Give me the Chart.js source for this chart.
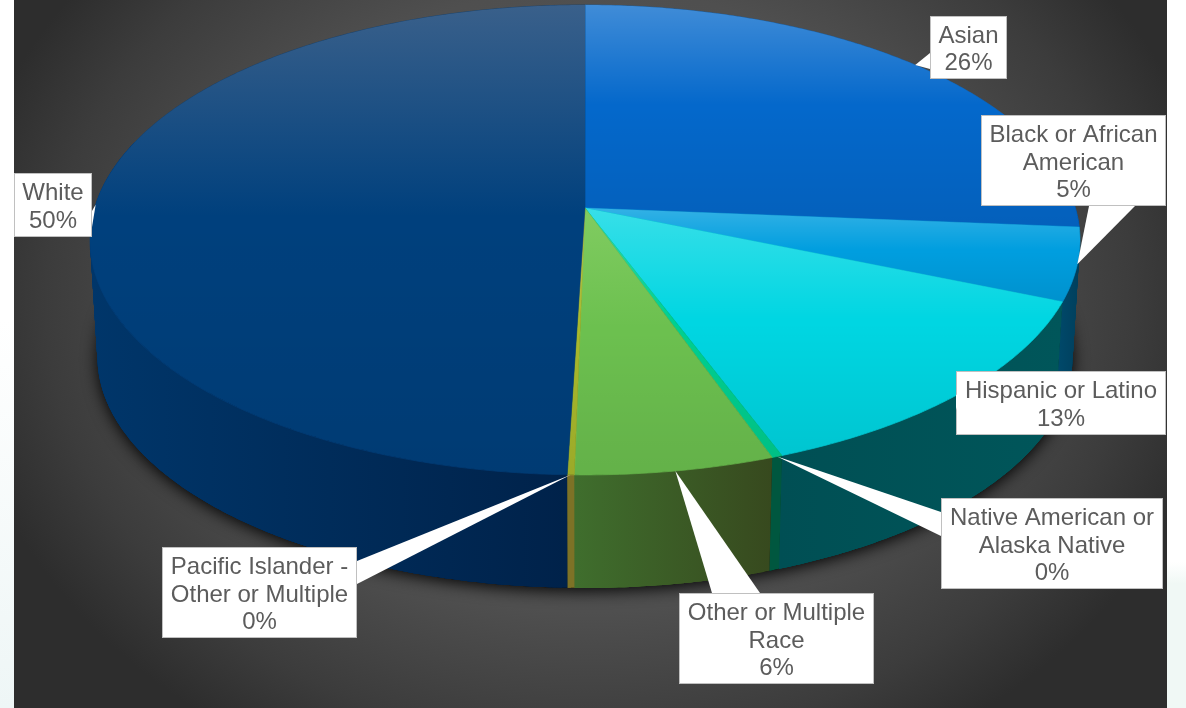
<!DOCTYPE html>
<html>
<head>
<meta charset="utf-8">
<title>Enrollment by race</title>
<script src="https://cdn.jsdelivr.net/npm/chart.js@4"></script>
<style>
  html, body { margin: 0; padding: 0; width: 1186px; height: 708px; overflow: hidden; }
  #page {
    position: absolute; left: 0; top: 0; width: 1186px; height: 708px;
    background: linear-gradient(to bottom, #ffffff 0%, #ffffff 45%, #eef6f6 100%);
  }
  #topright {
    position: absolute; left: 1167px; top: 0; width: 19px; height: 708px;
    background: linear-gradient(to bottom, #ffffff 0, #ffffff 562px, #f0f8f5 584px, #f0f8f5 708px);
  }
  #panel {
    position: absolute; left: 14px; top: 0; width: 1153px; height: 708px;
    background: radial-gradient(ellipse 640px 520px at 576px 300px, #5a5a5a 0%, #4f4f4f 60%, #3c3c3c 85%, #2d2d2d 100%);
  }
  canvas { position: absolute; left: 0; top: 0; }
</style>
</head>
<body>
<div id="page"></div>
<div id="topright"></div>
<div id="panel"></div>
<canvas id="chart" width="1186" height="708"></canvas>
<script>
var categories = [
  "Asian",
  "Black or African American",
  "Hispanic or Latino",
  "Native American or Alaska Native",
  "Other or Multiple Race",
  "Pacific Islander - Other or Multiple",
  "White"
];
var shares = [26.3, 5.0, 13.0, 0.3, 5.7, 0.2, 49.5];

var faceColors = ["#0468cb", "#009edf", "#00d6e2", "#00d090", "#6cc04f", "#a8b82c", "#00407d"];
var sheenColors = ["255,255,255", "255,255,255", "255,255,255", "255,255,255", "190,240,150", "255,255,255", "190,170,170"];
var sheenAlpha  = [0.24, 0.2, 0.22, 0.2, 0.25, 0.2, 0.3];
var wallLeft   = ["#003a70", "#004a6c", "#004f54", "#00573f", "#3f6e2d", "#7d7226", "#00366a"];
var wallRight  = ["#003a70", "#003f5c", "#00565a", "#00573f", "#37491e", "#7d7226", "#00224a"];

// callout boxes [x, y, w, h] and the two points where the pointer leaves the box
var boxes = [
  [930, 16, 77, 63],
  [981, 115, 185, 91],
  [956, 371, 210, 64],
  [941, 498, 222, 91],
  [679, 593, 195, 91],
  [162, 547, 195, 91],
  [14, 173, 78, 64]
];
var pointerBases = [
  [[930, 53], [930, 69]],
  [[1089, 206], [1135, 206]],
  [[956, 395], [956, 410]],
  [[941, 512], [941, 536]],
  [[712, 593], [760, 593]],
  [[357, 561], [357, 584]],
  [[92, 211], [92, 227]]
];

// tilt of the disc: horizontal and vertical stretch of the arc radius, foreshortening
var STRETCH_X = 490.4 / 203;
var STRETCH_Y = 230.6 / 203;
var PERSPECTIVE = 0.136;
// the underside of the disc sits lower and a little smaller
var DROP = 117;
var UNDER_SCALE = 0.985;

function rimPoint(arc, angle, under) {
  var w = 1 - PERSPECTIVE * Math.sin(angle);
  var x = Math.cos(angle) * STRETCH_X * arc.outerRadius / w;
  var y = Math.sin(angle) * STRETCH_Y * arc.outerRadius / w;
  if (under) {
    return { x: arc.x + x * UNDER_SCALE, y: arc.y + DROP + y * UNDER_SCALE };
  }
  return { x: arc.x + x, y: arc.y + y };
}

function rimPoints(arc, from, to, under) {
  var pts = [];
  var n = Math.max(2, Math.ceil((to - from) / 0.01));
  for (var i = 0; i <= n; i++) {
    pts.push(rimPoint(arc, from + (to - from) * i / n, under));
  }
  return pts;
}

function tracePath(ctx, pts) {
  ctx.beginPath();
  pts.forEach(function(p, i) {
    if (i === 0) ctx.moveTo(p.x, p.y);
    else ctx.lineTo(p.x, p.y);
  });
  ctx.closePath();
}

function drawShadow(ctx, arc) {
  ctx.save();
  ctx.beginPath();
  ctx.rect(14, 300, 1153, 408);
  ctx.clip();
  ctx.shadowColor = "rgba(0,0,0,0.95)";
  ctx.shadowBlur = 16;
  ctx.shadowOffsetY = 3;
  ctx.fillStyle = "#000";
  tracePath(ctx, rimPoints(arc, 0, Math.PI * 2, true));
  ctx.fill();
  ctx.restore();
}

function drawWall(ctx, arc, i) {
  // only the part of the rim that faces the viewer
  var from = Math.max(arc.startAngle, -0.3);
  var to = Math.min(arc.endAngle, Math.PI + 0.3);
  if (to <= from) return;
  var top = rimPoints(arc, from, to, false);
  var bottom = rimPoints(arc, from, to, true);
  var xs = top.concat(bottom).map(function(p) { return p.x; });
  var grad = ctx.createLinearGradient(Math.min.apply(null, xs), 0, Math.max.apply(null, xs), 0);
  grad.addColorStop(0, wallLeft[i]);
  grad.addColorStop(1, wallRight[i]);
  ctx.fillStyle = grad;
  // overlapping quads, the rim folds over itself at the sides of the disc
  for (var k = 0; k < top.length - 1; k++) {
    var end = Math.min(k + 4, top.length - 1);
    tracePath(ctx, top.slice(k, end + 1).concat(bottom.slice(k, end + 1).reverse()));
    ctx.fill();
  }
}

function drawFace(ctx, arc, i) {
  var pts = [{ x: arc.x, y: arc.y }].concat(rimPoints(arc, arc.startAngle, arc.endAngle, false));
  var ys = pts.map(function(p) { return p.y; });
  var minY = Math.min.apply(null, ys);
  var maxY = Math.max.apply(null, ys);
  tracePath(ctx, pts);
  ctx.fillStyle = faceColors[i];
  ctx.strokeStyle = faceColors[i];
  ctx.lineWidth = 0.6;
  ctx.fill();
  ctx.stroke();
  // sheen from the top of the slice, slight darkening towards its bottom
  var sheen = ctx.createLinearGradient(0, minY, 0, maxY);
  sheen.addColorStop(0, "rgba(" + sheenColors[i] + "," + sheenAlpha[i] + ")");
  sheen.addColorStop(0.45, "rgba(" + sheenColors[i] + ",0)");
  sheen.addColorStop(0.46, "rgba(0,0,0,0)");
  sheen.addColorStop(1, "rgba(0,0,0,0.08)");
  tracePath(ctx, pts);
  ctx.fillStyle = sheen;
  ctx.fill();
}

function wrapLines(ctx, text, maxWidth) {
  var lines = [];
  var line = "";
  text.split(" ").forEach(function(word) {
    var next = line ? line + " " + word : word;
    if (line && ctx.measureText(next).width > maxWidth) {
      lines.push(line);
      line = word;
    } else {
      line = next;
    }
  });
  lines.push(line);
  return lines;
}

function drawCallout(ctx, arc, i) {
  var box = boxes[i];
  var base = pointerBases[i];
  var tip = rimPoint(arc, (arc.startAngle + arc.endAngle) / 2, false);

  ctx.fillStyle = "#ffffff";
  ctx.fillRect(box[0], box[1], box[2], box[3]);
  ctx.strokeStyle = "#c0c0c0";
  ctx.lineWidth = 1;
  ctx.strokeRect(box[0] + 0.5, box[1] + 0.5, box[2] - 1, box[3] - 1);

  ctx.beginPath();
  ctx.moveTo(base[0][0], base[0][1]);
  ctx.lineTo(tip.x, tip.y);
  ctx.lineTo(base[1][0], base[1][1]);
  ctx.closePath();
  ctx.fillStyle = "#ffffff";
  ctx.fill();

  ctx.font = "24px 'Liberation Sans', Arial, sans-serif";
  ctx.fillStyle = "#5c5c5c";
  ctx.textAlign = "center";
  ctx.textBaseline = "middle";
  var lines = wrapLines(ctx, categories[i], box[2] - 8);
  lines.push(Math.round(shares[i]) + "%");
  var midY = box[1] + box[3] / 2;
  lines.forEach(function(text, k) {
    ctx.fillText(text, box[0] + box[2] / 2, midY + (k - (lines.length - 1) / 2) * 27.7 + 2.5);
  });
}

// Chart.js lays out the slices; this draws them tilted with a side wall and callouts
var tiltedPie = {
  id: "tiltedPie",
  beforeDatasetDraw: function(chart, args) {
    var ctx = chart.ctx;
    var arcs = args.meta.data;
    drawShadow(ctx, arcs[0]);
    arcs.forEach(function(arc, i) { drawWall(ctx, arc, i); });
    arcs.forEach(function(arc, i) { drawFace(ctx, arc, i); });
    return false;
  },
  afterDraw: function(chart) {
    var ctx = chart.ctx;
    chart.getDatasetMeta(0).data.forEach(function(arc, i) { drawCallout(ctx, arc, i); });
  }
};

new Chart(document.getElementById("chart"), {
  type: "pie",
  data: {
    labels: categories,
    datasets: [{ data: shares, backgroundColor: faceColors, borderWidth: 0 }]
  },
  options: {
    responsive: false,
    animation: false,
    layout: { padding: { top: 5, right: 16, bottom: 297, left: 0 } },
    plugins: { legend: { display: false }, tooltip: { enabled: false } }
  },
  plugins: [tiltedPie]
});
</script>
</body>
</html>
